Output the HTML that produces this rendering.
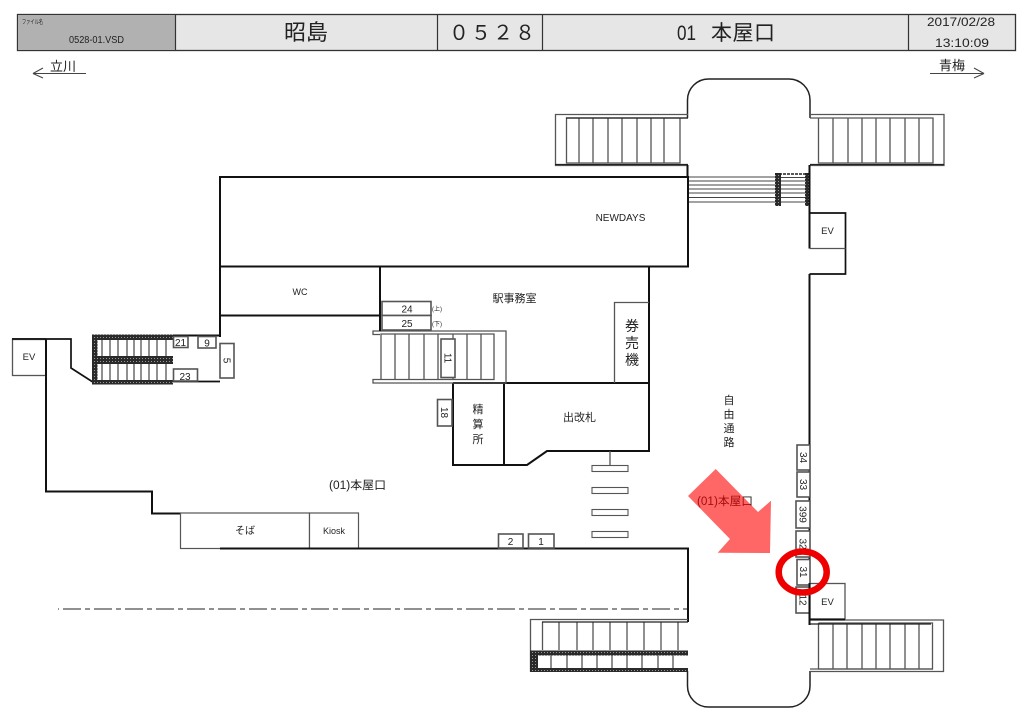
<!DOCTYPE html>
<html><head><meta charset="utf-8"><style>
html,body{margin:0;padding:0;background:#fff;width:1024px;height:722px;overflow:hidden}
svg{display:block;filter:blur(.3px)}
text{font-family:"Liberation Sans","Noto Sans CJK JP",sans-serif;fill:#222}
.c{text-anchor:middle}
.k{fill:none;stroke:#111;stroke-width:2}
.g{fill:none;stroke:#555;stroke-width:1.3}
.b{fill:#fff;stroke:#555;stroke-width:1.6}
.h{fill:url(#ht);stroke:none}
</style></head><body>
<svg width="1024" height="722" viewBox="0 0 1024 722" xmlns="http://www.w3.org/2000/svg">
<defs><pattern id="ht" width="3" height="3" patternUnits="userSpaceOnUse"><rect width="3" height="3" fill="#2a2a2a"/><rect x="1" y="1" width="1" height="1" fill="#999"/></pattern></defs>

<!-- Header -->
<rect x="17.500" y="14.500" width="998" height="36" fill="#e6e6e6" stroke="#333" stroke-width="1.300"/>
<rect x="18" y="15" width="157" height="35" fill="#b1b1b1"/>
<path d="M175.500 14V50M437.500 14V50M542.500 14V50M908.500 14V50" stroke="#333" stroke-width="1.200"/>
<text x="22" y="24" font-size="6" textLength="21" lengthAdjust="spacingAndGlyphs">ファイル名</text>
<text x="69" y="43" font-size="10" textLength="55" lengthAdjust="spacingAndGlyphs">0528-01.VSD</text>
<text x="306" y="40" font-size="22" class="c">昭島</text>
<text x="449 471 493 515" y="39.500" font-size="20">０５２８</text>
<text x="677" y="40" font-size="21" textLength="19" lengthAdjust="spacingAndGlyphs">01</text>
<text x="711" y="40" font-size="21" textLength="64">本屋口</text>
<text x="961" y="26" font-size="12" class="c" textLength="68" lengthAdjust="spacingAndGlyphs">2017/02/28</text>
<text x="962" y="47" font-size="12" class="c" textLength="54" lengthAdjust="spacingAndGlyphs">13:10:09</text>

<!-- Direction arrows -->
<text x="50" y="71" font-size="13" textLength="26">立川</text>
<path d="M86 73.500H33L43 68M33 73.500L43 78" fill="none" stroke="#444" stroke-width="1"/>
<text x="939" y="70" font-size="13" textLength="26">青梅</text>
<path d="M930 73.500H984L974 68M984 73.500L974 78" fill="none" stroke="#444" stroke-width="1"/>

<!-- Top bump -->
<path d="M687.500 118V100A21 21 0 0 1 708.500 79H789A21 21 0 0 1 810 100V118" fill="none" stroke="#222" stroke-width="1.500"/>

<!-- Top left stairs -->
<path d="M688 114.500H555.500V165.500H688" class="g"/>
<path d="M688 118H566.500V163H680V118" class="g"/>
<path d="M579 118V163M593 118V163M608 118V163M622 118V163M637 118V163M651 118V163M664 118V163" class="g"/>
<path d="M566 118H688M555 164.500H688" stroke="#222" stroke-width="1.300" fill="none"/>

<!-- Top right stairs -->
<path d="M810 114.500H944V165.500H810" class="g"/>
<path d="M818.500 118V163H933V118H810" class="g"/>
<path d="M833 118V163M848 118V163M862 118V163M876 118V163M890 118V163M905 118V163M919 118V163" class="g"/>
<path d="M810 164.500H944" stroke="#222" stroke-width="1.300" fill="none"/>

<!-- Stairs between -->
<path d="M688 177H776M688 181H805M688 185H805M688 189H805M688 193H805M688 197.500H805M688 202H776" stroke="#444" stroke-width="1.100" fill="none"/>
<rect class="h" x="775" y="173" width="6" height="33"/>
<rect class="h" x="805" y="173" width="5" height="33"/>
<path d="M775 174H810" stroke="#222" stroke-width="1.600" stroke-dasharray="3 1" fill="none"/>
<path d="M781 177.500H805M781 202H805" stroke="#444" stroke-width="1" fill="none"/>

<!-- Main walls -->
<path d="M220 337V177H688V266.500H220" class="k"/>
<path d="M687.500 165V177" class="k"/>
<path d="M220 315.500H380M380 266V331" class="k"/>
<path d="M649 266V451H547L527 465H453V383M453 383H649M504 383V465" class="k"/>
<path d="M809.500 165V248.500M809.500 274V620" class="k"/>
<path d="M809.500 213H845.500V274H809.500" fill="none" stroke="#111" stroke-width="1.700"/>
<path d="M809.500 248.500H845.500" class="g"/>

<!-- Left section walls -->
<path d="M12 339H71V368L92 381.500H220" fill="none" stroke="#111" stroke-width="1.700"/>
<path d="M173 335.500H220" class="k"/>
<path d="M46 339V491.500H152V513.500H180" class="k"/>
<rect x="12.500" y="339.500" width="33.500" height="36" fill="#fff" stroke="#555" stroke-width="1.300"/>
<path d="M46 339V376" class="k"/>
<path d="M46 339H12" fill="none" stroke="#111" stroke-width="1.600"/>

<!-- Left hatched stairs -->
<path d="M102 340V381M110 340V381M118 340V381M127 340V381M134 340V381M141 340V381M149 340V381M157 340V381M166 340V381" class="g"/>
<rect class="h" x="92" y="334.500" width="81" height="5.500"/>
<rect class="h" x="92" y="356" width="81" height="8"/>
<rect class="h" x="92" y="380" width="81" height="4.500"/>
<rect class="h" x="92" y="334.500" width="5.500" height="50"/>

<!-- Small boxes left -->
<rect class="b" x="173.500" y="336.500" width="14.500" height="11"/>
<text x="180.500" y="346" font-size="10" class="c">21</text>
<rect class="b" x="198" y="336.500" width="18" height="11.500"/>
<text x="207" y="346.500" font-size="10" class="c">9</text>
<rect class="b" x="220" y="343.500" width="14" height="34.500"/>
<text transform="translate(227,360.500) rotate(90)" y="3.500" font-size="10" class="c">5</text>
<rect class="b" x="173.500" y="369" width="24" height="12"/>
<text x="185" y="380" font-size="10" class="c">23</text>

<!-- Centre stairs -->
<path d="M380 331H506V383H373V379.500H494V334H381V379" class="g"/>
<path d="M380 331H373V334.500H380" class="g"/>
<path d="M395 334V379.500M409 334V379.500M424 334V379.500M438 334V379.500M453 334V379.500M467 334V379.500M481 334V379.500" class="g"/>
<path d="M380 318V331" class="k"/>
<rect class="b" x="382" y="301.500" width="49" height="14"/>
<rect class="b" x="382" y="315.500" width="49" height="14.500"/>
<text x="407" y="312.500" font-size="10" class="c">24</text>
<text x="407" y="327" font-size="10" class="c">25</text>
<text x="432" y="311" font-size="6">(上)</text>
<text x="432" y="326" font-size="6">(下)</text>
<rect class="b" x="441" y="339" width="14" height="38.500"/>
<text transform="translate(448,358) rotate(90)" y="3.500" font-size="10" class="c">11</text>
<rect class="b" x="437.500" y="399.500" width="14.500" height="26.500"/>
<text transform="translate(444.500,412.500) rotate(90)" y="3.500" font-size="10" class="c">18</text>

<!-- Ticket machines -->
<path d="M614.500 383V302.500H649" class="g"/>
<text x="632" y="331" font-size="14" class="c">券</text>
<text x="632" y="348" font-size="14" class="c">売</text>
<text x="632" y="365" font-size="14" class="c">機</text>

<!-- Crosswalk -->
<path d="M610 451V466" class="g"/>
<rect x="592" y="465.500" width="36" height="6" fill="#fff" stroke="#555" stroke-width="1.100"/>
<rect x="592" y="487.500" width="36" height="6" fill="#fff" stroke="#555" stroke-width="1.100"/>
<rect x="592" y="509.500" width="36" height="6" fill="#fff" stroke="#555" stroke-width="1.100"/>
<rect x="592" y="531.500" width="36" height="6" fill="#fff" stroke="#555" stroke-width="1.100"/>

<!-- Shops -->
<rect x="180.500" y="513" width="129" height="35.500" fill="#fff" stroke="#555" stroke-width="1.200"/>
<rect x="309.500" y="513" width="49" height="35.500" fill="#fff" stroke="#555" stroke-width="1.200"/>
<path d="M220 548.500H688V622" class="k"/>
<rect class="b" x="498.500" y="534" width="24.500" height="14"/>
<text x="510.500" y="545" font-size="10" class="c">2</text>
<rect class="b" x="528.500" y="534" width="25.500" height="14"/>
<text x="541" y="545" font-size="10" class="c">1</text>

<!-- Centreline -->
<path d="M58 609H687" stroke="#222" stroke-width="1.100" fill="none" stroke-dasharray="1 4 18 4 5 4 18 4 5 4 18 4 5 4 18 4 5 4 18 4 5 4 18 4 5 4 18 4 5 4 18 4 5 4 18 4 5 4 18 4 5 4 18 4 5 4 18 4 5 4 18 4 5 4 18 4 5 4 18 4 5 4 18 4 5 4 18 4 5 4 18 4 5 4 18 4 5 4 18 4 5 4 18 4 5 4 18 4 5 4 18 4"/>

<!-- Bottom left stairs -->
<path d="M688 619.500H530.500V671.500" class="g"/>
<path d="M542.500 622V650M678 622V650M559 622V650M577 622V650M593 622V650M610 622V650M627 622V650M644 622V650M661 622V650" class="g"/>
<path d="M542 622H688" stroke="#222" stroke-width="1.300" fill="none"/>
<path d="M551 654V669M567 654V669M582 654V669M597 654V669M612 654V669M627 654V669M642 654V669M658 654V669M673 654V669" class="g"/>
<rect class="h" x="530" y="650.500" width="158" height="5"/>
<rect class="h" x="530" y="668" width="158" height="4"/>
<rect class="h" x="530" y="651" width="8" height="21"/>

<!-- Bottom bump -->
<path d="M687.500 671V686A21 21 0 0 0 708.500 707H789A21 21 0 0 0 810 686V671" fill="none" stroke="#222" stroke-width="1.500"/>

<!-- Bottom right stairs -->
<path d="M810 620H943.500V671.500H810" class="g"/>
<path d="M818.500 623V669H932.500V623H818.500" class="g"/>
<path d="M833 623V669M847 623V669M862 623V669M876 623V669M890 623V669M905 623V669M919 623V669" class="g"/>
<path d="M810 624H931" stroke="#222" stroke-width="1.300" fill="none"/>
<path d="M810 669H933" class="g"/>

<!-- Right column boxes -->
<rect class="b" x="797" y="445" width="13" height="25"/>
<rect class="b" x="797" y="472" width="13" height="25"/>
<rect class="b" x="796" y="501" width="14" height="27"/>
<rect class="b" x="796" y="531" width="14" height="26"/>
<rect class="b" x="797" y="559.500" width="13" height="25.500"/>
<rect class="b" x="796" y="587" width="14" height="26"/>
<text transform="translate(803.500,457.500) rotate(90)" y="3.500" font-size="10" class="c">34</text>
<text transform="translate(803.500,484.500) rotate(90)" y="3.500" font-size="10" class="c">33</text>
<text transform="translate(803,514.500) rotate(90)" y="3.500" font-size="10" class="c">399</text>
<text transform="translate(803,544) rotate(90)" y="3.500" font-size="10" class="c">32</text>
<text transform="translate(803.500,572) rotate(90)" y="3.500" font-size="10" class="c">31</text>
<text transform="translate(803,600) rotate(90)" y="3.500" font-size="10" class="c">12</text>
<rect x="810" y="583.500" width="35" height="35.500" fill="#fff" stroke="#555" stroke-width="1.300"/>
<path d="M810 619.500H845" class="k"/>
<path d="M809.500 583V625" class="k"/>

<!-- Labels -->
<text x="620.500" y="221" font-size="10" class="c">NEWDAYS</text>
<text x="827.500" y="234" font-size="9.500" class="c">EV</text>
<text x="29" y="360" font-size="9.500" class="c">EV</text>
<text x="827.500" y="605" font-size="9.500" class="c">EV</text>
<text x="300" y="295" font-size="9" class="c">WC</text>
<text x="514.500" y="302" font-size="11" class="c">駅事務室</text>
<text x="579.500" y="421" font-size="11" class="c">出改札</text>
<text x="478" y="413" font-size="11" class="c">精</text>
<text x="478" y="428" font-size="11" class="c">算</text>
<text x="478" y="443" font-size="11" class="c">所</text>
<text x="729" y="404" font-size="11" class="c">自</text>
<text x="729" y="418" font-size="11" class="c">由</text>
<text x="729" y="432" font-size="11" class="c">通</text>
<text x="729" y="446" font-size="11" class="c">路</text>
<text x="329" y="489" font-size="11.500" textLength="57" lengthAdjust="spacingAndGlyphs">(01)本屋口</text>
<text x="245" y="534" font-size="10" class="c">そば</text>
<text x="334" y="534" font-size="9" class="c">Kiosk</text>
<text x="697" y="505" font-size="11.500" textLength="56" lengthAdjust="spacingAndGlyphs">(01)本屋口</text>

<!-- Highlight overlay -->
<polygon points="715.700,469 688,496 730,539 717.700,552.700 770,553 771,500.700 758,512" fill="#ff0000" opacity=".6"/>
<ellipse cx="802.700" cy="572" rx="24" ry="20.500" fill="none" stroke="#ee0000" stroke-width="6.500"/>
</svg>
</body></html>
